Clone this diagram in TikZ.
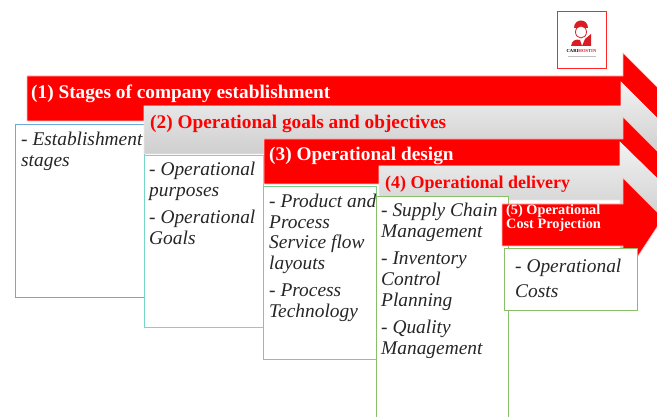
\documentclass[tikz,border=0pt]{standalone}
\usepackage{fontspec}
\setmainfont{Liberation Serif}
\definecolor{boxblue}{HTML}{6FA8DC}
\definecolor{boxteal}{HTML}{76D7C4}
\definecolor{boxgreen}{HTML}{7CCF8A}
\definecolor{boxolive}{HTML}{8ABF6A}
\definecolor{logored}{HTML}{D81E24}
\begin{document}
\begin{tikzpicture}[x=1pt,y=-1pt,
  redarrow/.style={fill=red,draw=white!75!red,line width=0.6pt,line join=miter},
  grayarrow/.style={top color=white!95!black,bottom color=white!74!black,draw=white!92!black,line width=0.6pt},
  itembox/.style={draw,fill=white,line width=1pt,anchor=north west,inner sep=0pt,outer sep=0pt},
  itemtext/.style={anchor=north west,inner sep=0pt,align=left,text=black!85,font=\fontsize{19.4}{21}\selectfont\itshape},
  titletext/.style={anchor=base west,inner sep=0pt,font=\bfseries\fontsize{19.3}{19}\selectfont}]
\useasboundingbox (0,0) rectangle (657,417);
\clip (0,0) rectangle (657,417);
% logo
\node[draw=red!85!white,line width=1pt,fill=white,minimum width=49pt,minimum height=57pt,inner sep=0pt,anchor=north west] (logo) at (557,11) {};
\fill[logored] (574,28) .. controls (574,18) and (588,18) .. (588,28) -- cycle;
\draw[logored,line width=0.8pt,fill=white] (581,32) ellipse (5.5 and 6);
\fill[logored] (571,46) .. controls (572,40) and (576,39) .. (580,40) -- (582,46) -- cycle;
\fill[logored] (582,46) -- (585,39) -- (591,34) -- (591,46) -- cycle;
\node[inner sep=0pt,font=\bfseries\fontsize{4.6}{4.6}\selectfont] (logotext) at (581.5,51) {CARI\textcolor{logored}{HOSTIN}};
\node[inner sep=0pt,minimum width=28pt,minimum height=0.7pt,fill=black!25] (logoline) at (581.5,56) {};
% stage 1
\path[redarrow] (27,76) -- (623,76) -- (623,53) -- (680,110) -- (623,167) -- (623,121) -- (27,121) -- cycle;
\node[titletext,text=white] (h1) at (31,99) {(1) Stages of company establishment};
\node[itembox,draw=boxblue,minimum width=129pt,minimum height=173pt] (b1) at (15.5,124.5) {};
\node[itemtext] (t1) at (21,132) {- Establishment\\stages};
% stage 2
\path[grayarrow] (144,106) -- (621,106) -- (621,82) -- (675,136) -- (621,190) -- (621,154) -- (144,154) -- cycle;
\node[titletext,text=red] (h2) at (150,129) {(2) Operational goals and objectives};
\node[itembox,draw=boxteal,minimum width=119pt,minimum height=172pt] (b2) at (144.5,155.5) {};
\node[itemtext] (t2) at (149,162) {- Operational\\purposes\\[6pt]- Operational\\Goals};
% stage 3
\path[redarrow] (264,139) -- (623,139) -- (623,117) -- (680,174) -- (623,231) -- (623,184) -- (264,184) -- cycle;
\node[titletext,text=white] (h3) at (269,161) {(3) Operational design};
\node[itembox,draw=boxgreen,minimum width=113pt,minimum height=173pt] (b3) at (263.5,186.5) {};
\node[itemtext,font=\fontsize{19.4}{20.5}\selectfont\itshape] (t3) at (269,194) {- Product and\\Process\\Service flow\\layouts\\[7pt]- Process\\Technology};
% stage 4
\path[grayarrow] (379,166) -- (620,166) -- (620,142) -- (680,201) -- (620,260) -- (620,200) -- (379,200) -- cycle;
\node[titletext,text=red,font=\bfseries\fontsize{18}{18}\selectfont] (h4) at (385,189) {(4) Operational delivery};
\node[itembox,draw=boxolive,minimum width=132pt,minimum height=240pt] (b4) at (376.5,196.5) {};
\node[itemtext] (t4) at (381,203) {- Supply Chain\\Management\\[6pt]- Inventory\\Control\\Planning\\[6pt]- Quality\\Management};
% stage 5
\path[redarrow] (502,204) -- (623,204) -- (623,178) -- (663,218) -- (638,256) -- (623,256) -- (623,246) -- (502,246) -- cycle;
\node[titletext,text=white,anchor=north west,align=left,font=\bfseries\fontsize{14.3}{13.5}\selectfont] (h5) at (506,204.5) {(5) Operational\\Cost Projection};
\node[itembox,draw=boxolive,minimum width=133pt,minimum height=62pt] (b5) at (504.5,248.5) {};
\node[itemtext,font=\fontsize{19.4}{25}\selectfont\itshape] (t5) at (515,259) {- Operational\\Costs};
\end{tikzpicture}
\end{document}
